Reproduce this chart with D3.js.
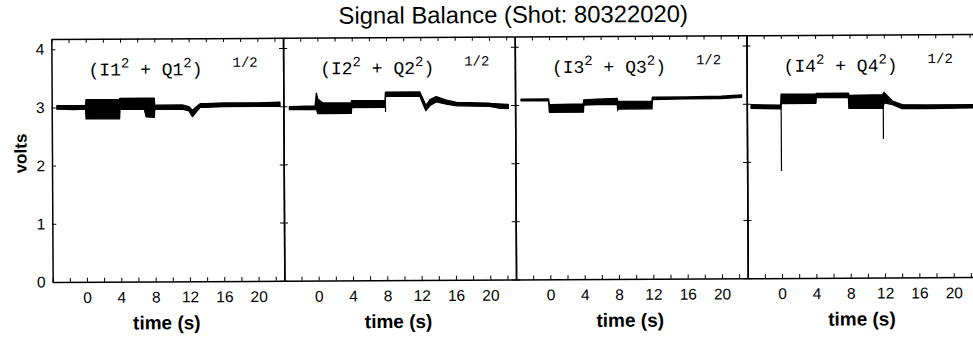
<!DOCTYPE html>
<html><head><meta charset="utf-8">
<script src="https://cdn.jsdelivr.net/npm/d3@7"></script>
<style>body{margin:0;background:#fff}svg{display:block}</style>
</head><body><svg id="c" width="973" height="339"></svg>
<script>
// ---------- data ----------
const titleText = "Signal Balance (Shot: 80322020)";
const channels = ["1", "2", "3", "4"];
const timeLabelTicks = [0, 4, 8, 12, 16, 20];
const timeMinorTicks = [-4, -2, 0, 2, 4, 6, 8, 10, 12, 14, 16, 18, 20, 22];
const voltTicks = [0, 1, 2, 3, 4];
const timeDomain = [-4, 23];
const voltDomain = [0, 4.175];

// [time (s), lower volts, upper volts] of the signal band
const trace1 = [
  [-3.4, 2.97, 3.03], [-1.5, 2.96, 3.03], [-0.05, 2.97, 3.03],
  [0.0, 2.80, 3.13], [3.9, 2.80, 3.13],
  [3.95, 2.96, 3.15], [6.8, 2.96, 3.15], [7.0, 2.83, 3.15], [7.95, 2.82, 3.15],
  [8.0, 2.96, 3.03], [11.2, 2.96, 3.03], [12.0, 2.93, 3.0],
  [12.4, 2.83, 2.94], [12.9, 2.92, 3.0], [13.3, 2.99, 3.05],
  [14.0, 2.99, 3.05], [16.0, 3.0, 3.06], [20.0, 3.0, 3.06], [22.6, 3.0, 3.07]
];
const trace2 = [
  [-3.3, 2.94, 2.99], [-0.3, 2.94, 3.0], [-0.15, 2.94, 3.22],
  [0.0, 2.87, 3.12], [0.6, 2.87, 3.05], [3.9, 2.87, 3.05],
  [3.95, 2.97, 3.09], [7.85, 2.97, 3.09],
  [7.9, 3.16, 3.23], [11.9, 3.16, 3.23],
  [12.6, 2.91, 3.0], [13.1, 3.0, 3.1], [13.8, 3.06, 3.15],
  [15.0, 3.02, 3.09], [16.2, 2.99, 3.05], [20.0, 2.98, 3.03],
  [21.0, 2.95, 3.02], [22.2, 2.94, 3.01]
];
const trace3 = [
  [-3.3, 3.07, 3.1], [-0.1, 3.07, 3.1],
  [0.0, 2.87, 3.0], [3.95, 2.87, 3.01],
  [4.0, 2.99, 3.08], [5.5, 3.0, 3.09], [7.9, 3.0, 3.1],
  [7.95, 2.92, 3.05], [11.95, 2.92, 3.05],
  [12.0, 3.08, 3.12], [16.0, 3.09, 3.12], [20.0, 3.09, 3.13], [22.4, 3.11, 3.15]
];
const trace4 = [
  [-3.5, 2.92, 2.98], [-0.05, 2.91, 2.97],
  [0.0, 3.0, 3.16], [4.05, 3.0, 3.16],
  [4.1, 3.1, 3.17], [7.85, 3.1, 3.17],
  [7.9, 2.91, 3.13], [11.85, 2.91, 3.14],
  [12.0, 3.0, 3.18], [13.0, 2.97, 3.03], [14.1, 2.9, 2.97],
  [17.0, 2.9, 2.96], [22.6, 2.91, 2.96]
];
// [time (s), from volts, to volts] of thin glitch lines
const spikes1 = [];
const spikes2 = [[7.9, 3.0, 2.89]];
const spikes3 = [[7.95, 3.0, 2.88]];
const spikes4 = [[0.0, 3.0, 1.84], [11.9, 3.0, 2.38]];

const traces = [trace1, trace2, trace3, trace4];
const spikes = [spikes1, spikes2, spikes3, spikes4];

// ---------- layout ----------
const svg = d3.select("#c");
const root = svg.append("g").attr("transform", "rotate(-0.31,486,160)");
const firstLeft = 52, panelW = 231.7, yTop = 36.7, yBottom = 279.7;
const y = d3.scaleLinear().domain(voltDomain).range([yBottom, yTop]);
const tickFont = "'Liberation Sans Narrow','Liberation Sans',Arial,sans-serif";

root.append("text")
  .attr("x", 514).attr("y", 23)
  .attr("text-anchor", "middle")
  .style("font-family", "'Liberation Sans',Arial,sans-serif")
  .style("font-size", "23.8px")
  .text(titleText);

root.append("text")
  .attr("transform", "translate(26.5,151) rotate(-90)")
  .attr("text-anchor", "middle")
  .style("font-family", "'Liberation Sans',Arial,sans-serif")
  .style("font-weight", "bold")
  .style("font-size", "17px")
  .text("volts");

function styleAxis(sel) {
  sel.select(".domain").attr("stroke-width", 1.5);
  sel.selectAll(".tick line").attr("stroke-width", 1);
  sel.selectAll("text").style("font-family", tickFont).style("font-size", "15.5px").attr("fill", "#000");
}

channels.forEach((ch, i) => {
  const L = firstLeft + i * panelW;
  const x = d3.scaleLinear().domain(timeDomain).range([L, L + panelW]);
  const p = root.append("g");

  p.append("g").attr("transform", `translate(0,${yBottom})`)
    .call(d3.axisBottom(x).tickValues(timeMinorTicks).tickSize(-4).tickSizeOuter(0).tickPadding(10)
      .tickFormat(d => timeLabelTicks.includes(d) ? d : ""))
    .call(styleAxis);
  p.append("g").attr("transform", `translate(0,${yTop})`)
    .call(d3.axisTop(x).tickValues(timeMinorTicks).tickSize(-4).tickSizeOuter(0).tickFormat(""))
    .call(styleAxis);
  p.append("g").attr("transform", `translate(${L},0)`)
    .call(d3.axisLeft(y).tickValues(voltTicks).tickSize(-4).tickSizeOuter(0).tickPadding(7)
      .tickFormat(i === 0 ? d3.format("d") : ""))
    .call(styleAxis);
  p.append("g").attr("transform", `translate(${L + panelW},0)`)
    .call(d3.axisRight(y).tickValues(voltTicks).tickSize(-4).tickSizeOuter(0).tickFormat(""))
    .call(styleAxis);

  const area = d3.area().x(d => x(d[0])).y0(d => y(d[1])).y1(d => y(d[2]));
  p.append("path").datum(traces[i]).attr("d", area)
    .attr("fill", "#000").attr("stroke", "#000").attr("stroke-width", 1.4).attr("stroke-linejoin", "round");
  p.selectAll("line.spike").data(spikes[i]).join("line").attr("class", "spike")
    .attr("x1", d => x(d[0])).attr("x2", d => x(d[0]))
    .attr("y1", d => y(d[1])).attr("y2", d => y(d[2]))
    .attr("stroke", "#000").attr("stroke-width", 1.2);

  const lab = p.append("text").attr("x", L + 37).attr("y", 73.5)
    .style("font-family", "'Liberation Mono','Courier New',monospace")
    .style("font-size", "18px").attr("fill", "#000");
  lab.append("tspan").text(`(I${ch}`);
  lab.append("tspan").attr("dy", -8).style("font-size", "14px").text("2");
  lab.append("tspan").attr("dy", 8).text(` + Q${ch}`);
  lab.append("tspan").attr("dy", -8).style("font-size", "14px").text("2");
  lab.append("tspan").attr("dy", 8).text(")");
  lab.append("tspan").attr("dy", -8).attr("dx", 30).style("font-size", "14px").text("1/2");

  p.append("text").attr("x", L + 114).attr("y", 327.5)
    .attr("text-anchor", "middle")
    .style("font-family", "'Liberation Sans',Arial,sans-serif")
    .style("font-weight", "bold").style("font-size", "19px")
    .text("time (s)");
});
</script>
</body></html>
